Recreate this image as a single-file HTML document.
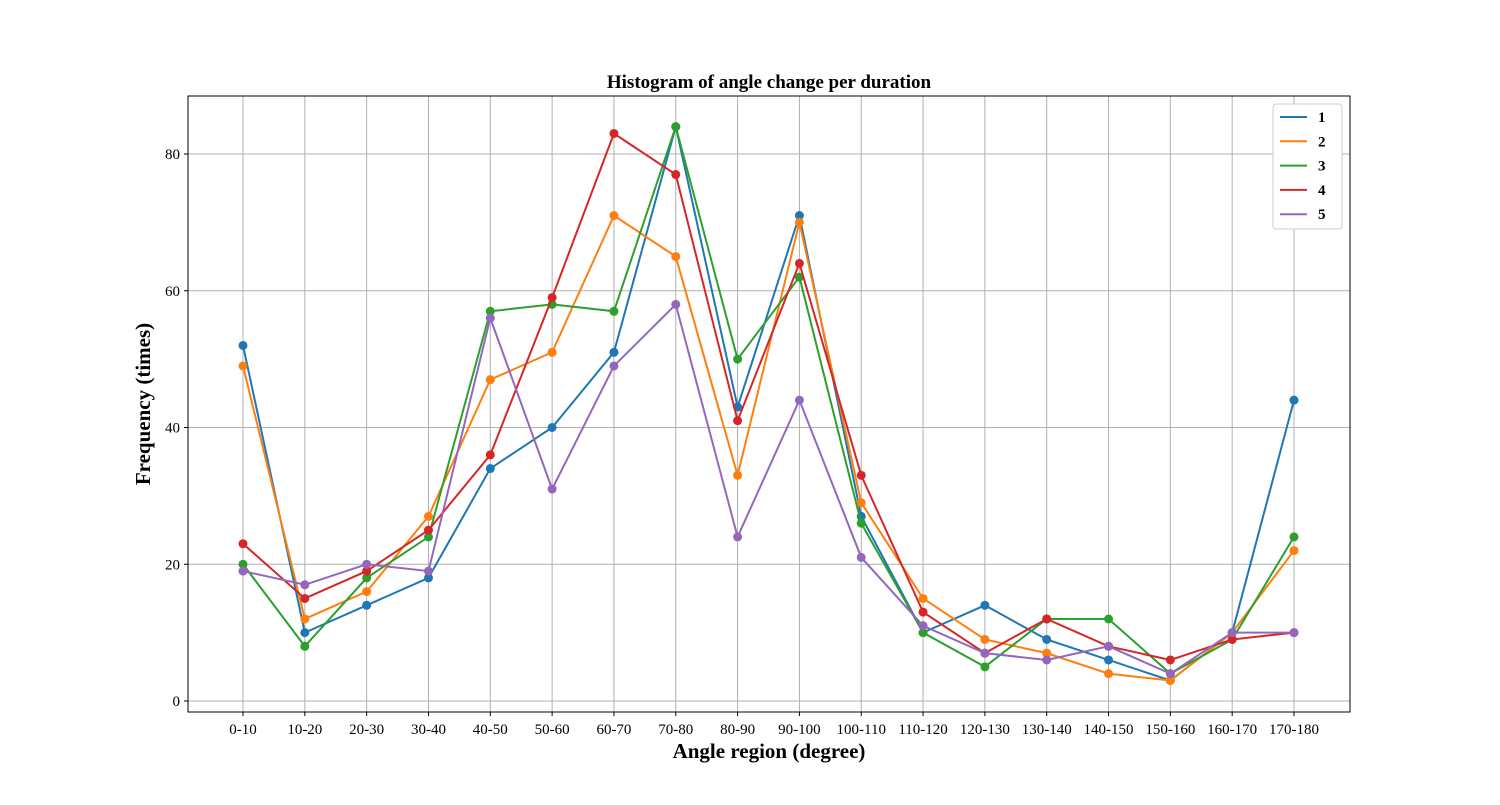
<!DOCTYPE html>
<html><head><meta charset="utf-8"><style>
body{margin:0;background:#fff;}
svg{font-family:"Liberation Serif",serif;}
</style></head><body>
<svg id="chart" width="1500" height="800" xmlns="http://www.w3.org/2000/svg"></svg>
<script>
const categories=["0-10","10-20","20-30","30-40","40-50","50-60","60-70","70-80","80-90","90-100","100-110","110-120","120-130","130-140","140-150","150-160","160-170","170-180"];
const s1=[52,10,14,18,34,40,51,84,43,71,27,10,14,9,6,3,10,44];
const s2=[49,12,16,27,47,51,71,65,33,70,29,15,9,7,4,3,10,22];
const s3=[20,8,18,24,57,58,57,84,50,62,26,10,5,12,12,4,9,24];
const s4=[23,15,19,25,36,59,83,77,41,64,33,13,7,12,8,6,9,10];
const s5=[19,17,20,19,56,31,49,58,24,44,21,11,7,6,8,4,10,10];
const seriesNames=["1","2","3","4","5"];
const yTicks=[0,20,40,60,80];
const series=[s1,s2,s3,s4,s5];
const colors=["#1f77b4","#ff7f0e","#2ca02c","#d62728","#9467bd"];
const NS="http://www.w3.org/2000/svg";
const svg=document.getElementById('chart');
const L=188,R=1350,T=96,B=712;
const x=i=>243+i*(1294-243)/(categories.length-1);
const y=v=>701-v*(701-154)/80;
function el(t,a,txt){const e=document.createElementNS(NS,t);for(const k in a)e.setAttribute(k,a[k]);if(txt!==undefined)e.textContent=txt;svg.appendChild(e);return e;}
categories.forEach((c,i)=>{
 const g=el('line',{x1:x(i),x2:x(i),y1:T,y2:B,stroke:'#b0b0b0','stroke-width':1});
 
 
 el('line',{x1:x(i),x2:x(i),y1:B,y2:B+4,stroke:'#000'});
 const t=el('text',{x:x(i),y:B+22,'text-anchor':'middle','font-size':15},c);
 
 
});
yTicks.forEach(v=>{
 const g=el('line',{x1:L,x2:R,y1:y(v),y2:y(v),stroke:'#b0b0b0','stroke-width':1});
 
 
 el('line',{x1:L-4,x2:L,y1:y(v),y2:y(v),stroke:'#000'});
 const t=el('text',{x:L-8,y:y(v)+5,'text-anchor':'end','font-size':15},v);
 
 
});
series.forEach((s,k)=>{
 const p=el('polyline',{points:s.map((v,i)=>x(i)+','+y(v)).join(' '),fill:'none',stroke:colors[k],'stroke-width':2});
 
 
 s.forEach((v,i)=>{
  const c=el('circle',{cx:x(i),cy:y(v),r:4.5,fill:colors[k]});
  
  
 });
});
const fr=el('rect',{x:L,y:T,width:R-L,height:B-T,fill:'none',stroke:'#000','stroke-width':1});


const ti=el('text',{x:(L+R)/2,y:88,'text-anchor':'middle','font-size':19,'font-weight':'bold'},'Histogram of angle change per duration');


const xt=el('text',{x:(L+R)/2,y:758,'text-anchor':'middle','font-size':21,'font-weight':'bold'},'Angle region (degree)');


const yt=el('text',{x:0,y:0,'text-anchor':'middle','font-size':21,'font-weight':'bold',transform:'translate(150,404) rotate(-90)'},'Frequency (times)');


const lg=el('rect',{x:1273,y:104,width:69,height:125,fill:'#fff',stroke:'#ccc',rx:3});


seriesNames.forEach((n,k)=>{
 const yy=117+k*24.3;
 const l=el('line',{x1:1280,x2:1307,y1:yy,y2:yy,stroke:colors[k],'stroke-width':2});
 
 
 const t=el('text',{x:1318,y:yy+5,'font-size':15,'font-weight':'bold'},n);
 
 
});
</script>
</body></html>
